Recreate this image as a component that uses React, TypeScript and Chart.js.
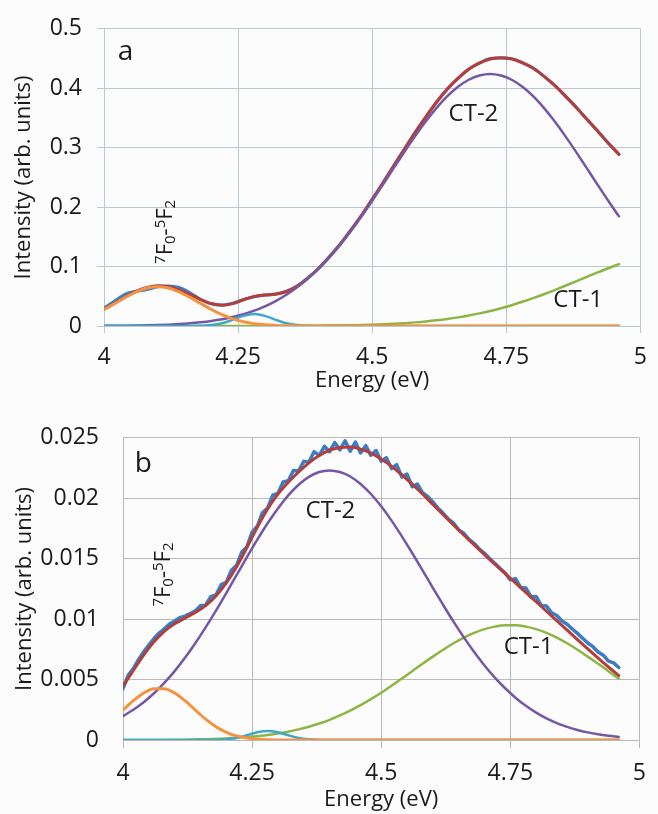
import { useEffect, useRef } from 'react';
import { Chart, registerables } from 'chart.js';

Chart.register(...registerables);

const FONT = "'Open Sans', 'DejaVu Sans', sans-serif";
const INK = '#1a1a1a';
Chart.defaults.font.family = FONT;

// Photon energy grid (eV) shared by the fitted curves
const energy = [
  4.00, 4.02, 4.04, 4.06, 4.08, 4.10, 4.12, 4.14, 4.16, 4.18,
  4.20, 4.22, 4.24, 4.26, 4.28, 4.30, 4.32, 4.34, 4.36, 4.38,
  4.40, 4.42, 4.44, 4.46, 4.48, 4.50, 4.52, 4.54, 4.56, 4.58,
  4.60, 4.62, 4.64, 4.66, 4.68, 4.70, 4.72, 4.74, 4.76, 4.78,
  4.80, 4.82, 4.84, 4.86, 4.88, 4.90, 4.92, 4.94, 4.96,
];

// Finer sampling used for the measured spectrum of sample b
const energyFine = [
  4.00, 4.01, 4.02, 4.03, 4.04, 4.05, 4.06, 4.07, 4.08, 4.09,
  4.10, 4.11, 4.12, 4.13, 4.14, 4.15, 4.16, 4.17, 4.18, 4.19,
  4.20, 4.21, 4.22, 4.23, 4.24, 4.25, 4.26, 4.27, 4.28, 4.29,
  4.30, 4.31, 4.32, 4.33, 4.34, 4.35, 4.36, 4.37, 4.38, 4.39,
  4.40, 4.41, 4.42, 4.43, 4.44, 4.45, 4.46, 4.47, 4.48, 4.49,
  4.50, 4.51, 4.52, 4.53, 4.54, 4.55, 4.56, 4.57, 4.58, 4.59,
  4.60, 4.61, 4.62, 4.63, 4.64, 4.65, 4.66, 4.67, 4.68, 4.69,
  4.70, 4.71, 4.72, 4.73, 4.74, 4.75, 4.76, 4.77, 4.78, 4.79,
  4.80, 4.81, 4.82, 4.83, 4.84, 4.85, 4.86, 4.87, 4.88, 4.89,
  4.90, 4.91, 4.92, 4.93, 4.94, 4.95, 4.96,
];

const xTickLabels = ['4', '4.25', '4.5', '4.75', '5'];
const yTickLabelsA = ['0', '0.1', '0.2', '0.3', '0.4', '0.5'];
const yTickLabelsB = ['0', '0.005', '0.01', '0.015', '0.02', '0.025'];

// ---- Panel a ----
const aMeasured = [
  0.0300, 0.0420, 0.0535, 0.0585, 0.0612, 0.0660, 0.0675, 0.0650, 0.0560, 0.0450,
  0.0372, 0.0352, 0.0382, 0.0445, 0.0492, 0.0520, 0.0540, 0.0585, 0.0668, 0.0810,
  0.0968, 0.1165, 0.1372, 0.1612, 0.1858, 0.2132, 0.2405, 0.2696, 0.2973, 0.3260,
  0.3515, 0.3770, 0.3990, 0.4165, 0.4325, 0.4420, 0.4500, 0.4510, 0.4498, 0.4428,
  0.4340, 0.4200, 0.4052, 0.3868, 0.3684, 0.3478, 0.3284, 0.3075, 0.2890,
];
const aFit = [
  0.0280, 0.0383, 0.0488, 0.0583, 0.0649, 0.0676, 0.0661, 0.0608, 0.0530, 0.0445,
  0.0378, 0.0350, 0.0377, 0.0441, 0.0498, 0.0523, 0.0535, 0.0578, 0.0672, 0.0806,
  0.0972, 0.1162, 0.1375, 0.1609, 0.1862, 0.2129, 0.2408, 0.2692, 0.2977, 0.3255,
  0.3520, 0.3765, 0.3984, 0.4170, 0.4319, 0.4427, 0.4493, 0.4514, 0.4493, 0.4432,
  0.4335, 0.4204, 0.4048, 0.3871, 0.3680, 0.3481, 0.3280, 0.3079, 0.2886,
];
const aCT2 = [
  0.0002, 0.0004, 0.0005, 0.0008, 0.0011, 0.0016, 0.0023, 0.0033, 0.0046, 0.0063,
  0.0085, 0.0114, 0.0152, 0.0199, 0.0258, 0.0332, 0.0420, 0.0526, 0.0652, 0.0798,
  0.0966, 0.1155, 0.1366, 0.1596, 0.1845, 0.2107, 0.2379, 0.2655, 0.2929, 0.3194,
  0.3444, 0.3670, 0.3866, 0.4025, 0.4143, 0.4215, 0.4240, 0.4215, 0.4143, 0.4025,
  0.3866, 0.3670, 0.3444, 0.3194, 0.2929, 0.2655, 0.2379, 0.2107, 0.1845,
];
const aCT1 = [
  0, 0, 0, 0, 0, 0, 0, 0, 0, 0,
  0, 0, 0, 0, 0, 0, 0.0001, 0.0002, 0.0003, 0.0004,
  0.0005, 0.0007, 0.0009, 0.0013, 0.0017, 0.0022, 0.0029, 0.0037, 0.0048, 0.0061,
  0.0076, 0.0095, 0.0118, 0.0145, 0.0176, 0.0212, 0.0253, 0.0299, 0.0350, 0.0407,
  0.0469, 0.0534, 0.0604, 0.0677, 0.0751, 0.0826, 0.0901, 0.0972, 0.1041,
];
const aF0F2 = [
  0.0278, 0.0379, 0.0483, 0.0575, 0.0638, 0.0660, 0.0638, 0.0575, 0.0483, 0.0379,
  0.0278, 0.0190, 0.0121, 0.0072, 0.0040, 0.0021, 0.0010, 0.0004, 0.0002, 0.0001,
  0, 0, 0, 0, 0, 0, 0, 0, 0, 0,
  0, 0, 0, 0, 0, 0, 0, 0, 0, 0,
  0, 0, 0, 0, 0, 0, 0, 0, 0,
];
const aMinor = [
  0, 0, 0, 0, 0, 0, 0, 0, 0.0001, 0.0003,
  0.0015, 0.0046, 0.0104, 0.0170, 0.0200, 0.0170, 0.0104, 0.0046, 0.0015, 0.0003,
  0.0001, 0, 0, 0, 0, 0, 0, 0, 0, 0,
  0, 0, 0, 0, 0, 0, 0, 0, 0, 0,
  0, 0, 0, 0, 0, 0, 0, 0, 0,
];

// ---- Panel b ----
const bMeasured = [
  0.00425, 0.00535, 0.00590, 0.00665, 0.00730, 0.00785, 0.00840, 0.00885, 0.00920, 0.00960,
  0.00985, 0.01012, 0.01025, 0.01045, 0.01068, 0.01110, 0.01115, 0.01185, 0.01200, 0.01285,
  0.01305, 0.01405, 0.01445, 0.01555, 0.01598, 0.01720, 0.01768, 0.01880, 0.01918, 0.02025,
  0.02040, 0.02135, 0.02145, 0.02230, 0.02225, 0.02305, 0.02300, 0.02385, 0.02355, 0.02430,
  0.02385, 0.02460, 0.02400, 0.02475, 0.02390, 0.02465, 0.02375, 0.02435, 0.02355, 0.02395,
  0.02305, 0.02335, 0.02245, 0.02278, 0.02175, 0.02200, 0.02095, 0.02118, 0.02045, 0.02015,
  0.01970, 0.01918, 0.01875, 0.01828, 0.01795, 0.01738, 0.01710, 0.01660, 0.01625, 0.01580,
  0.01545, 0.01500, 0.01462, 0.01420, 0.01382, 0.01325, 0.01335, 0.01262, 0.01258, 0.01185,
  0.01188, 0.01112, 0.01108, 0.01052, 0.01030, 0.00985, 0.00958, 0.00918, 0.00882, 0.00842,
  0.00802, 0.00772, 0.00728, 0.00702, 0.00652, 0.00638, 0.00600,
];
const bFit = [
  0.00446, 0.00575, 0.00702, 0.00812, 0.00899, 0.00961, 0.01008, 0.01054, 0.01112, 0.01192,
  0.01299, 0.01434, 0.01593, 0.01760, 0.01912, 0.02034, 0.02132, 0.02217, 0.02293, 0.02354,
  0.02397, 0.02420, 0.02423, 0.02406, 0.02373, 0.02324, 0.02264, 0.02193, 0.02116, 0.02035,
  0.01949, 0.01864, 0.01779, 0.01696, 0.01614, 0.01534, 0.01454, 0.01377, 0.01299, 0.01221,
  0.01144, 0.01065, 0.00987, 0.00909, 0.00830, 0.00753, 0.00678, 0.00604, 0.00533,
];
const bCT2 = [
  0.00198, 0.00250, 0.00313, 0.00387, 0.00473, 0.00570, 0.00680, 0.00801, 0.00932, 0.01071,
  0.01216, 0.01365, 0.01513, 0.01657, 0.01793, 0.01916, 0.02024, 0.02112, 0.02177, 0.02217,
  0.02230, 0.02217, 0.02180, 0.02118, 0.02035, 0.01933, 0.01815, 0.01685, 0.01547, 0.01404,
  0.01259, 0.01117, 0.00979, 0.00849, 0.00728, 0.00617, 0.00516, 0.00428, 0.00350, 0.00283,
  0.00227, 0.00179, 0.00140, 0.00109, 0.00083, 0.00063, 0.00047, 0.00035, 0.00025,
];
const bCT1 = [
  0, 0.00001, 0.00001, 0.00001, 0.00001, 0.00002, 0.00003, 0.00005, 0.00007, 0.00010,
  0.00013, 0.00018, 0.00024, 0.00032, 0.00041, 0.00054, 0.00069, 0.00088, 0.00110, 0.00136,
  0.00167, 0.00203, 0.00243, 0.00288, 0.00338, 0.00391, 0.00449, 0.00508, 0.00569, 0.00631,
  0.00690, 0.00747, 0.00800, 0.00847, 0.00886, 0.00917, 0.00938, 0.00949, 0.00949, 0.00938,
  0.00917, 0.00886, 0.00847, 0.00800, 0.00747, 0.00690, 0.00631, 0.00569, 0.00508,
];
const bF0F2 = [
  0.00248, 0.00325, 0.00389, 0.00425, 0.00425, 0.00389, 0.00325, 0.00248, 0.00173, 0.00110,
  0.00064, 0.00034, 0.00017, 0.00007, 0.00003, 0, 0, 0, 0, 0,
  0, 0, 0, 0, 0, 0, 0, 0, 0, 0,
  0, 0, 0, 0, 0, 0, 0, 0, 0, 0,
  0, 0, 0, 0, 0, 0, 0, 0, 0,
];
const bMinor = [
  0, 0, 0, 0, 0, 0, 0, 0, 0, 0.00001,
  0.00006, 0.00017, 0.00039, 0.00064, 0.00075, 0.00064, 0.00039, 0.00017, 0.00006, 0.00001,
  0, 0, 0, 0, 0, 0, 0, 0, 0, 0,
  0, 0, 0, 0, 0, 0, 0, 0, 0, 0,
  0, 0, 0, 0, 0, 0, 0, 0, 0,
];

const COLORS = {
  measured: '#3b7cc3',
  fit: '#b23f3b',
  ct2: '#7458a5',
  ct1: '#8db543',
  f0f2: '#f5923e',
  minor: '#3ea8c8',
};

function series(xs: number[], ys: number[], color: string, width: number, smooth = true) {
  return {
    data: xs.map((x, i) => ({ x, y: ys[i] })),
    borderColor: color,
    backgroundColor: color,
    borderWidth: width,
    pointRadius: 0,
    pointHoverRadius: 0,
    fill: false,
    tension: 0,
    cubicInterpolationMode: smooth ? 'monotone' : 'default',
    borderJoinStyle: 'round',
    borderCapStyle: 'round',
  };
}

function pickLabel(labels: string[], value: number) {
  const hit = labels.find((l) => Math.abs(Number(l) - value) < 1e-9);
  return hit === undefined ? '' : hit;
}

// Draws ⁷F₀-⁵F₂ rotated by -90° around its centre
function drawTerm(ctx: CanvasRenderingContext2D, cx: number, cy: number) {
  const parts = [
    { t: '7', size: 15, dy: -7 },
    { t: 'F', size: 22, dy: 0 },
    { t: '0', size: 15, dy: 3 },
    { t: '-', size: 22, dy: 0 },
    { t: '5', size: 15, dy: -7 },
    { t: 'F', size: 22, dy: 0 },
    { t: '2', size: 15, dy: 3 },
  ];
  ctx.save();
  ctx.translate(cx, cy);
  ctx.rotate(-Math.PI / 2);
  ctx.textAlign = 'left';
  ctx.textBaseline = 'alphabetic';
  let total = 0;
  for (const p of parts) {
    ctx.font = `${p.size}px ${FONT}`;
    total += ctx.measureText(p.t).width;
  }
  let x = -total / 2;
  for (const p of parts) {
    ctx.font = `${p.size}px ${FONT}`;
    ctx.fillText(p.t, x, 7.5 + p.dy);
    x += ctx.measureText(p.t).width;
  }
  ctx.restore();
}

const notesPlugin = {
  id: 'panelNotes',
  afterDatasetsDraw(chart: any, _args: any, opts: any) {
    const { ctx } = chart;
    const xs = chart.scales.x;
    const ys = chart.scales.y;
    ctx.save();
    ctx.fillStyle = INK;
    ctx.textAlign = 'left';
    ctx.textBaseline = 'alphabetic';
    ctx.font = `28px ${FONT}`;
    ctx.fillText(opts.letter.text, xs.getPixelForValue(opts.letter.x), ys.getPixelForValue(opts.letter.y));
    ctx.font = `24px ${FONT}`;
    for (const n of opts.bands) {
      ctx.fillText(n.text, xs.getPixelForValue(n.x), ys.getPixelForValue(n.y));
    }
    drawTerm(ctx, xs.getPixelForValue(opts.term.x), ys.getPixelForValue(opts.term.y));
    ctx.restore();
  },
};

type PanelSpec = {
  datasets: any[];
  yMax: number;
  yStep: number;
  yLabels: string[];
  grid: string;
  padTop: number;
  yWidth: number;
  yTick: number;
  yPad: number;
  yTitlePad: number;
  xTick: number;
  xPad: number;
  xTitlePad: number;
  notes: any;
};

function buildConfig(p: PanelSpec): any {
  const tickFont = { size: 23, family: FONT };
  const titleFont = { size: 22, family: FONT };
  return {
    type: 'line',
    data: { datasets: p.datasets },
    plugins: [notesPlugin],
    options: {
      animation: false,
      responsive: false,
      devicePixelRatio: 1,
      events: [],
      layout: { padding: { top: p.padTop, right: 6, left: 0, bottom: 0 } },
      plugins: {
        legend: { display: false },
        tooltip: { enabled: false },
        panelNotes: p.notes,
      },
      scales: {
        x: {
          type: 'linear',
          min: 4,
          max: 5,
          afterFit: (s: any) => { s.height = 74; },
          ticks: {
            stepSize: 0.25,
            autoSkip: false,
            maxRotation: 0,
            padding: p.xPad,
            color: INK,
            font: tickFont,
            callback: (v: number) => pickLabel(xTickLabels, v),
          },
          grid: { color: p.grid, lineWidth: 1, tickLength: p.xTick, drawTicks: true },
          border: { color: p.grid, width: 1 },
          title: {
            display: true,
            text: 'Energy (eV)',
            color: INK,
            font: titleFont,
            padding: { top: 0, bottom: p.xTitlePad },
          },
        },
        y: {
          type: 'linear',
          min: 0,
          max: p.yMax,
          afterFit: (s: any) => { s.width = p.yWidth; },
          ticks: {
            stepSize: p.yStep,
            padding: p.yPad,
            color: INK,
            font: tickFont,
            callback: (v: number) => pickLabel(p.yLabels, v),
          },
          grid: { color: p.grid, lineWidth: 1, tickLength: p.yTick, drawTicks: p.yTick > 0 },
          border: { color: p.grid, width: 1 },
          title: {
            display: true,
            text: 'Intensity (arb. units)',
            color: INK,
            font: titleFont,
            padding: { top: p.yTitlePad, bottom: 0 },
          },
        },
      },
    },
  };
}

const panelA: PanelSpec = {
  datasets: [
    series(energy, aF0F2, COLORS.f0f2, 3),
    series(energy, aMinor, COLORS.minor, 2.5),
    series(energy, aCT2, COLORS.ct2, 2.5),
    series(energy, aCT1, COLORS.ct1, 2.5),
    series(energy, aFit, COLORS.fit, 3),
    series(energy, aMeasured, COLORS.measured, 3),
  ],
  yMax: 0.5,
  yStep: 0.1,
  yLabels: yTickLabelsA,
  grid: '#bac8d0',
  padTop: 23,
  yWidth: 104,
  yTick: 7,
  yPad: 15,
  yTitlePad: 11,
  xTick: 7,
  xPad: 11,
  xTitlePad: 6,
  notes: {
    letter: { text: 'a', x: 4.0255, y: 0.4472 },
    bands: [
      { text: 'CT-2', x: 4.6423, y: 0.3449 },
      { text: 'CT-1', x: 4.8376, y: 0.0314 },
    ],
    term: { x: 4.1131, y: 0.1584 },
  },
};

const panelB: PanelSpec = {
  datasets: [
    series(energy, bF0F2, COLORS.f0f2, 3),
    series(energy, bMinor, COLORS.minor, 2.5),
    series(energy, bCT2, COLORS.ct2, 2.5),
    series(energy, bCT1, COLORS.ct1, 2.5),
    series(energy, bFit, COLORS.fit, 3),
    series(energyFine, bMeasured, COLORS.measured, 3.5, false),
  ],
  yMax: 0.025,
  yStep: 0.005,
  yLabels: yTickLabelsB,
  grid: '#b9b9b9',
  padTop: 36,
  yWidth: 123,
  yTick: 0,
  yPad: 24,
  yTitlePad: 12,
  xTick: 8,
  xPad: 12,
  xTitlePad: 1,
  notes: {
    letter: { text: 'b', x: 4.0227, y: 0.0222 },
    bands: [
      { text: 'CT-2', x: 4.3535, y: 0.01834 },
      { text: 'CT-1', x: 4.7372, y: 0.00715 },
    ],
    term: { x: 4.0756, y: 0.01369 },
  },
};

function SpectrumPanel({ spec, top, height }: { spec: PanelSpec; top: number; height: number }) {
  const ref = useRef<HTMLCanvasElement | null>(null);
  useEffect(() => {
    if (!ref.current) return;
    const chart = new Chart(ref.current, buildConfig(spec));
    return () => chart.destroy();
  }, [spec]);
  return (
    <canvas
      ref={ref}
      width={658}
      height={height}
      style={{ position: 'absolute', left: 0, top, width: 658, height, display: 'block' }}
    />
  );
}

export default function App() {
  return (
    <div
      style={{
        position: 'absolute',
        left: 0,
        top: 0,
        width: 658,
        height: 814,
        background: '#fcfcfd',
        overflow: 'hidden',
      }}
    >
      <SpectrumPanel spec={panelA} top={0} height={400} />
      <SpectrumPanel spec={panelB} top={400} height={414} />
    </div>
  );
}
